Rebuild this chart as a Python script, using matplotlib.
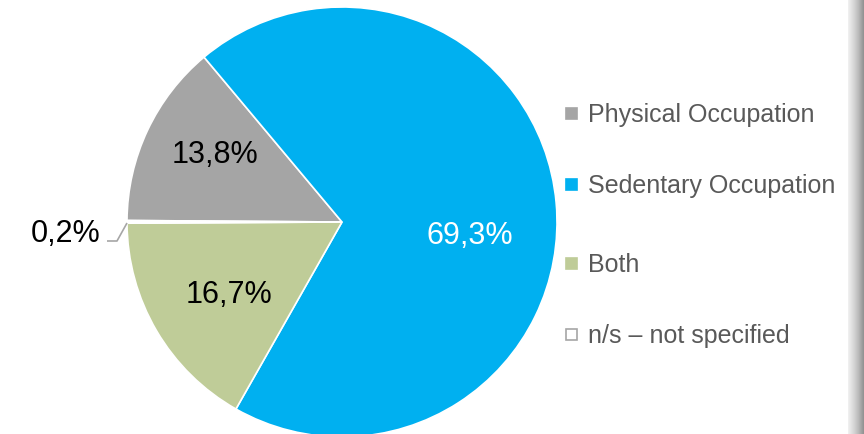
import matplotlib
matplotlib.use("Agg")
import matplotlib.pyplot as plt
import numpy as np
from matplotlib.patches import Rectangle

categories = ["Physical Occupation", "Sedentary Occupation", "Both", "n/s \u2013 not specified"]
values = [13.8, 69.3, 16.7, 0.2]
labels = ["13,8%", "69,3%", "16,7%", "0,2%"]
colors = ["#A5A5A5", "#00B0F0", "#BFCC98", "#FFFFFF"]
label_colors = ["black", "white", "black", "black"]

W, H = 864, 434
plt.rcParams['font.family'] = ['Liberation Sans', 'DejaVu Sans']
fig = plt.figure(figsize=(W / 100, H / 100), dpi=100)
ax = fig.add_axes([0, 0, 1, 1])
ax.set_xlim(0, W)
ax.set_ylim(0, H)
ax.axis('off')

def Y(y):
    return H - y

cx, cy, r = 342, 222, 215
wedges, _ = ax.pie(values, colors=colors, startangle=179.6, counterclock=False,
                   center=(cx, Y(cy)), radius=r, frame=True,
                   wedgeprops=dict(edgecolor='white', linewidth=1.2))
ax.set_xlim(0, W)
ax.set_ylim(0, H)
ax.set_aspect('auto')
ax.axis('off')

# data labels (position in pixel space)
label_pos = [(215, 163, 'center'), (469.5, 244, 'center'), (229.5, 303, 'center'), (101, 242, 'right')]
for (x, y, ha), t, c in zip(label_pos, labels, label_colors):
    ax.text(x, Y(y), t, fontsize=22, color=c, ha=ha, va='baseline')

# leader line for small slice
ax.plot([107, 117, 127], [Y(241), Y(241), Y(223)], color='#A6A6A6', lw=1.2,
        solid_capstyle='butt')

# legend
rows = [113, 184, 263, 334]
for yc, cat, col in zip(rows, categories, colors):
    ec = '#A6A6A6' if col == '#FFFFFF' else col
    ax.add_patch(Rectangle((566, Y(yc) - 5.5), 11, 11, facecolor=col,
                           edgecolor=ec, lw=1.2))
    ax.text(588, Y(yc + 9), cat, fontsize=18, color='#595959', ha='left', va='baseline')

# right edge shading (screenshot artifact)
grad = np.linspace(0, 1, 64).reshape(1, -1)
ax.imshow(grad, extent=(848, 864, 0, H), cmap='Greys', vmin=-0.3, vmax=2.2,
          aspect='auto', zorder=5)

ax.set_xlim(0, W)
ax.set_ylim(0, H)
fig.savefig("out.png", dpi=100)
